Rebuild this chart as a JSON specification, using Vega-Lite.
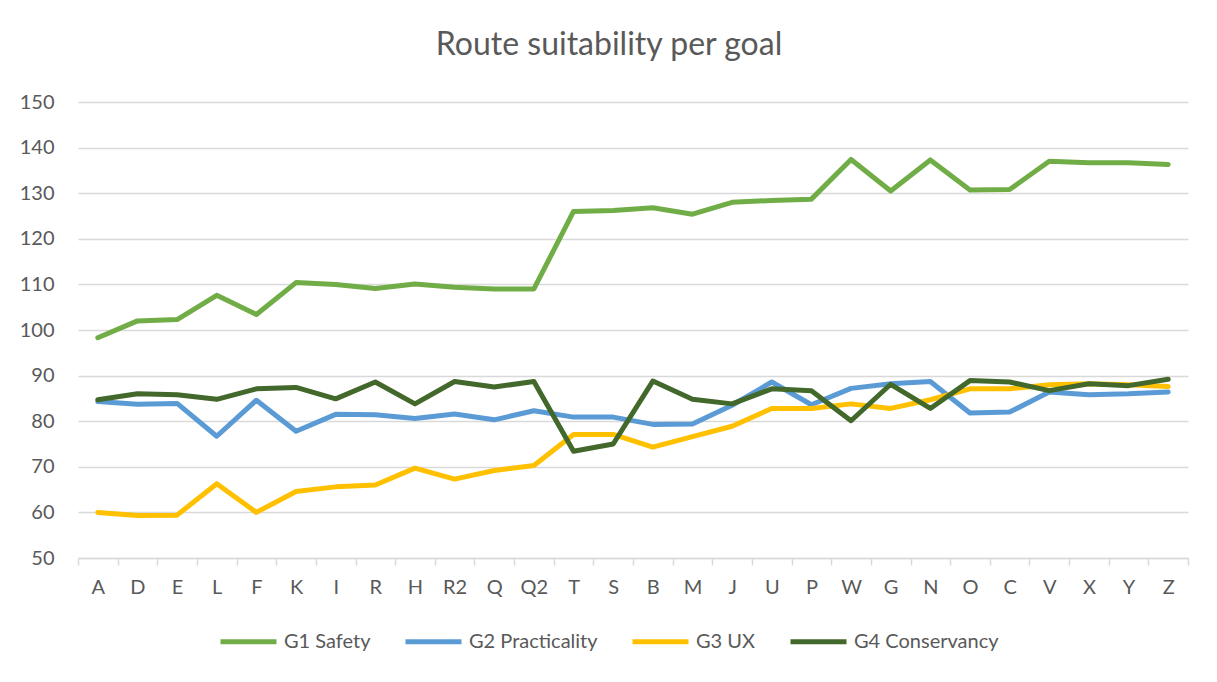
{
  "$schema": "https://vega.github.io/schema/vega-lite/v6.json",
  "width": 1110,
  "height": 456,
  "autosize": {"type": "none"},
  "padding": {"left": 78, "top": 102, "right": 29, "bottom": 124},
  "background": "white",
  "title": {
    "text": "Route suitability per goal",
    "font": "Lato",
    "fontSize": 32,
    "fontWeight": "normal",
    "color": "#595959",
    "anchor": "middle",
    "frame": "group",
    "dx": -24,
    "baseline": "alphabetic",
    "offset": 5
  },
  "data": {
    "values": [
      {"route": "A", "series": "G1 Safety", "value": 98.3},
      {"route": "D", "series": "G1 Safety", "value": 102.0},
      {"route": "E", "series": "G1 Safety", "value": 102.3},
      {"route": "L", "series": "G1 Safety", "value": 107.6},
      {"route": "F", "series": "G1 Safety", "value": 103.4},
      {"route": "K", "series": "G1 Safety", "value": 110.4},
      {"route": "I", "series": "G1 Safety", "value": 110.0},
      {"route": "R", "series": "G1 Safety", "value": 109.1},
      {"route": "H", "series": "G1 Safety", "value": 110.1},
      {"route": "R2", "series": "G1 Safety", "value": 109.4},
      {"route": "Q", "series": "G1 Safety", "value": 109.0},
      {"route": "Q2", "series": "G1 Safety", "value": 109.0},
      {"route": "T", "series": "G1 Safety", "value": 126.0},
      {"route": "S", "series": "G1 Safety", "value": 126.2},
      {"route": "B", "series": "G1 Safety", "value": 126.8},
      {"route": "M", "series": "G1 Safety", "value": 125.4},
      {"route": "J", "series": "G1 Safety", "value": 128.0},
      {"route": "U", "series": "G1 Safety", "value": 128.4},
      {"route": "P", "series": "G1 Safety", "value": 128.7},
      {"route": "W", "series": "G1 Safety", "value": 137.4},
      {"route": "G", "series": "G1 Safety", "value": 130.5},
      {"route": "N", "series": "G1 Safety", "value": 137.3},
      {"route": "O", "series": "G1 Safety", "value": 130.7},
      {"route": "C", "series": "G1 Safety", "value": 130.8},
      {"route": "V", "series": "G1 Safety", "value": 137.0},
      {"route": "X", "series": "G1 Safety", "value": 136.7},
      {"route": "Y", "series": "G1 Safety", "value": 136.7},
      {"route": "Z", "series": "G1 Safety", "value": 136.3},
      {"route": "A", "series": "G2 Practicality", "value": 84.3},
      {"route": "D", "series": "G2 Practicality", "value": 83.7},
      {"route": "E", "series": "G2 Practicality", "value": 83.9},
      {"route": "L", "series": "G2 Practicality", "value": 76.7},
      {"route": "F", "series": "G2 Practicality", "value": 84.6},
      {"route": "K", "series": "G2 Practicality", "value": 77.8},
      {"route": "I", "series": "G2 Practicality", "value": 81.5},
      {"route": "R", "series": "G2 Practicality", "value": 81.4},
      {"route": "H", "series": "G2 Practicality", "value": 80.6},
      {"route": "R2", "series": "G2 Practicality", "value": 81.6},
      {"route": "Q", "series": "G2 Practicality", "value": 80.3},
      {"route": "Q2", "series": "G2 Practicality", "value": 82.3},
      {"route": "T", "series": "G2 Practicality", "value": 80.9},
      {"route": "S", "series": "G2 Practicality", "value": 80.9},
      {"route": "B", "series": "G2 Practicality", "value": 79.3},
      {"route": "M", "series": "G2 Practicality", "value": 79.4},
      {"route": "J", "series": "G2 Practicality", "value": 83.5},
      {"route": "U", "series": "G2 Practicality", "value": 88.6},
      {"route": "P", "series": "G2 Practicality", "value": 83.6},
      {"route": "W", "series": "G2 Practicality", "value": 87.2},
      {"route": "G", "series": "G2 Practicality", "value": 88.2},
      {"route": "N", "series": "G2 Practicality", "value": 88.7},
      {"route": "O", "series": "G2 Practicality", "value": 81.8},
      {"route": "C", "series": "G2 Practicality", "value": 82.0},
      {"route": "V", "series": "G2 Practicality", "value": 86.4},
      {"route": "X", "series": "G2 Practicality", "value": 85.8},
      {"route": "Y", "series": "G2 Practicality", "value": 86.0},
      {"route": "Z", "series": "G2 Practicality", "value": 86.4},
      {"route": "A", "series": "G3 UX", "value": 60.0},
      {"route": "D", "series": "G3 UX", "value": 59.3},
      {"route": "E", "series": "G3 UX", "value": 59.4},
      {"route": "L", "series": "G3 UX", "value": 66.3},
      {"route": "F", "series": "G3 UX", "value": 60.0},
      {"route": "K", "series": "G3 UX", "value": 64.6},
      {"route": "I", "series": "G3 UX", "value": 65.6},
      {"route": "R", "series": "G3 UX", "value": 66.0},
      {"route": "H", "series": "G3 UX", "value": 69.7},
      {"route": "R2", "series": "G3 UX", "value": 67.3},
      {"route": "Q", "series": "G3 UX", "value": 69.2},
      {"route": "Q2", "series": "G3 UX", "value": 70.3},
      {"route": "T", "series": "G3 UX", "value": 77.1},
      {"route": "S", "series": "G3 UX", "value": 77.1},
      {"route": "B", "series": "G3 UX", "value": 74.3},
      {"route": "M", "series": "G3 UX", "value": 76.6},
      {"route": "J", "series": "G3 UX", "value": 78.9},
      {"route": "U", "series": "G3 UX", "value": 82.8},
      {"route": "P", "series": "G3 UX", "value": 82.8},
      {"route": "W", "series": "G3 UX", "value": 83.8},
      {"route": "G", "series": "G3 UX", "value": 82.8},
      {"route": "N", "series": "G3 UX", "value": 84.7},
      {"route": "O", "series": "G3 UX", "value": 87.1},
      {"route": "C", "series": "G3 UX", "value": 87.1},
      {"route": "V", "series": "G3 UX", "value": 88.0},
      {"route": "X", "series": "G3 UX", "value": 88.2},
      {"route": "Y", "series": "G3 UX", "value": 88.0},
      {"route": "Z", "series": "G3 UX", "value": 87.6},
      {"route": "A", "series": "G4 Conservancy", "value": 84.7},
      {"route": "D", "series": "G4 Conservancy", "value": 86.0},
      {"route": "E", "series": "G4 Conservancy", "value": 85.8},
      {"route": "L", "series": "G4 Conservancy", "value": 84.8},
      {"route": "F", "series": "G4 Conservancy", "value": 87.1},
      {"route": "K", "series": "G4 Conservancy", "value": 87.4},
      {"route": "I", "series": "G4 Conservancy", "value": 84.9},
      {"route": "R", "series": "G4 Conservancy", "value": 88.6},
      {"route": "H", "series": "G4 Conservancy", "value": 83.8},
      {"route": "R2", "series": "G4 Conservancy", "value": 88.7},
      {"route": "Q", "series": "G4 Conservancy", "value": 87.5},
      {"route": "Q2", "series": "G4 Conservancy", "value": 88.7},
      {"route": "T", "series": "G4 Conservancy", "value": 73.4},
      {"route": "S", "series": "G4 Conservancy", "value": 75.0},
      {"route": "B", "series": "G4 Conservancy", "value": 88.8},
      {"route": "M", "series": "G4 Conservancy", "value": 84.8},
      {"route": "J", "series": "G4 Conservancy", "value": 83.8},
      {"route": "U", "series": "G4 Conservancy", "value": 87.1},
      {"route": "P", "series": "G4 Conservancy", "value": 86.7},
      {"route": "W", "series": "G4 Conservancy", "value": 80.1},
      {"route": "G", "series": "G4 Conservancy", "value": 88.1},
      {"route": "N", "series": "G4 Conservancy", "value": 82.8},
      {"route": "O", "series": "G4 Conservancy", "value": 88.9},
      {"route": "C", "series": "G4 Conservancy", "value": 88.6},
      {"route": "V", "series": "G4 Conservancy", "value": 86.7},
      {"route": "X", "series": "G4 Conservancy", "value": 88.2},
      {"route": "Y", "series": "G4 Conservancy", "value": 87.8},
      {"route": "Z", "series": "G4 Conservancy", "value": 89.2}
    ]
  },
  "mark": {"type": "line", "strokeWidth": 5, "strokeCap": "round", "strokeJoin": "round"},
  "encoding": {
    "x": {
      "field": "route",
      "type": "nominal",
      "sort": null,
      "bandPosition": 0.5,
      "scale": {"type": "band", "paddingInner": 0, "paddingOuter": 0},
      "axis": {
        "title": null,
        "labelAngle": 0,
        "labelFont": "Lato",
        "labelFontSize": 20,
        "labelColor": "#595959",
        "labelPadding": 12,
        "domainColor": "#d9d9d9",
        "domainWidth": 1.5,
        "tickColor": "#d9d9d9",
        "tickWidth": 1.5,
        "tickSize": 7,
        "tickBand": "extent",
        "grid": false
      }
    },
    "y": {
      "field": "value",
      "type": "quantitative",
      "scale": {"domain": [50, 150], "nice": false, "zero": false},
      "axis": {
        "title": null,
        "values": [50, 60, 70, 80, 90, 100, 110, 120, 130, 140, 150],
        "labelFont": "Lato",
        "labelFontSize": 20,
        "labelColor": "#595959",
        "labelPadding": 24,
        "ticks": false,
        "tickSize": 0,
        "domain": false,
        "grid": true,
        "gridColor": "#d9d9d9",
        "gridWidth": 1.5
      }
    },
    "color": {
      "field": "series",
      "type": "nominal",
      "scale": {
        "domain": ["G1 Safety", "G2 Practicality", "G3 UX", "G4 Conservancy"],
        "range": ["#70AD47", "#5B9BD5", "#FFC000", "#43682B"]
      },
      "legend": {
        "title": null,
        "orient": "none",
        "direction": "horizontal",
        "legendX": 140,
        "legendY": 509,
        "padding": 0,
        "symbolType": "stroke",
        "symbolSize": 3136,
        "symbolStrokeWidth": 5,
        "labelFont": "Lato",
        "labelFontSize": 20,
        "labelColor": "#595959",
        "labelOffset": 5,
        "columnPadding": 24
      }
    }
  },
  "config": {
    "view": {"stroke": null}
  }
}
